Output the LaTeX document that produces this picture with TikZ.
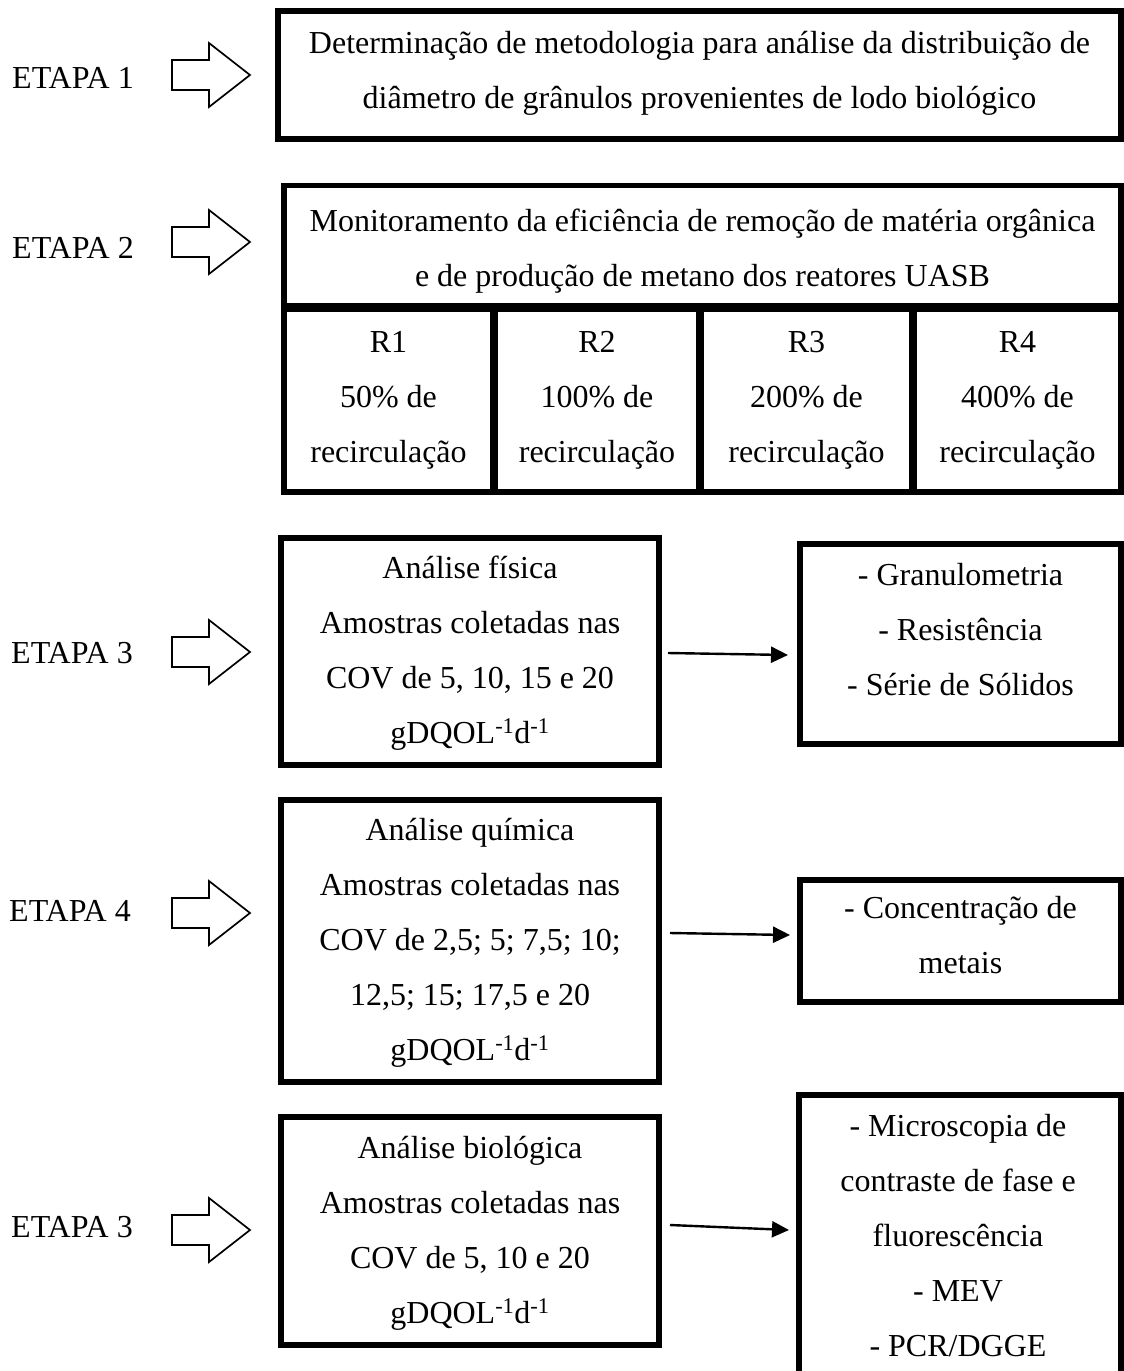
\documentclass[tikz,border=0pt]{standalone}
\usepackage{fontspec}
\setmainfont{Liberation Serif}
\usetikzlibrary{arrows.meta,fit}
\newcommand\blkarrow[1]{\draw[blk] (172,{#1-15}) -- (209,{#1-15}) -- (209,{#1-32}) -- (250,#1) -- (209,{#1+32}) -- (209,{#1+15}) -- (172,{#1+15}) -- cycle;}
\begin{document}
\begin{tikzpicture}[x=1pt,y=-1pt,
  box/.style={draw, line width=5.7pt, rectangle, inner sep=0pt, outer sep=0pt},
  txt/.style={font=\fontsize{32}{55}\selectfont, align=center, inner sep=0pt, anchor=base},
  lab/.style={font=\fontsize{32}{38}\selectfont, inner sep=0pt, anchor=base west},
  blk/.style={draw, line width=1.7pt, line join=miter},
  conn/.style={line width=2.4pt, -{Triangle[length=17pt,width=16pt]}}]
\path[use as bounding box] (0,0) rectangle (1124,1371);
\fill[white] (0,0) rectangle (1124,1371);
\clip (0,0) rectangle (1124,1371);

% stage labels
\node[lab] (e1) at (12,88) {ETAPA 1};
\node[lab] (e2) at (12,258) {ETAPA 2};
\node[lab] (e3) at (11,663) {ETAPA 3};
\node[lab] (e4) at (9,921) {ETAPA 4};
\node[lab] (e5) at (11,1237) {ETAPA 3};

% block arrows
\blkarrow{75}
\blkarrow{242}
\blkarrow{652}
\blkarrow{913}
\blkarrow{1230}

% stage 1 (anchor base = baseline of the last line)
\node[box, fit={(278,11) (1121,139)}] (b1) {};
\node[txt] (t1) at (699.5,108) {Determinação de metodologia para análise da distribuição de\\diâmetro de grânulos provenientes de lodo biológico};

% stage 2
\node[box, fit={(284,185.5) (1121,306.3)}] (hdr) {};
\node[txt] (th) at (702.5,286) {Monitoramento da eficiência de remoção de matéria orgânica\\e de produção de metano dos reatores UASB};
\node[box, fit={(284,308.7) (492.8,492)}] (c1) {};
\node[box, fit={(495.2,308.7) (698.8,492)}] (c2) {};
\node[box, fit={(701.2,308.7) (911.8,492)}] (c3) {};
\node[box, fit={(914.2,308.7) (1121,492)}] (c4) {};
\node[txt] (tc1) at (388.5,462) {R1\\50\% de\\recirculação};
\node[txt] (tc2) at (597,462) {R2\\100\% de\\recirculação};
\node[txt] (tc3) at (806.5,462) {R3\\200\% de\\recirculação};
\node[txt] (tc4) at (1017.5,462) {R4\\400\% de\\recirculação};

% stage 3 (physical)
\node[box, fit={(281,538) (659,765)}] (b3) {};
\node[txt] (t3) at (470,743) {Análise física\\Amostras coletadas nas\\COV de 5, 10, 15 e 20\\gDQOL\textsuperscript{-1}d\textsuperscript{-1}};
\node[box, fit={(800,544) (1121,744)}] (r3) {};
\node[txt] (u3) at (960.5,695) {- Granulometria\\- Resistência\\- Série de Sólidos};
\coordinate (s3) at (668,653);
\coordinate (k3) at (788,655);
\draw[conn] (s3) -- (k3);

% stage 4 (chemical)
\node[box, fit={(281,800) (659,1082)}] (b4) {};
\node[txt] (t4) at (470,1060) {Análise química\\Amostras coletadas nas\\COV de 2,5; 5; 7,5; 10;\\12,5; 15; 17,5 e 20\\gDQOL\textsuperscript{-1}d\textsuperscript{-1}};
\node[box, fit={(800,880) (1121,1002)}] (r4) {};
\node[txt] (u4) at (960.5,973) {- Concentração de\\metais};
\coordinate (s4) at (670,933);
\coordinate (k4) at (790,935);
\draw[conn] (s4) -- (k4);

% stage 3 (biological)
\node[box, fit={(281,1117) (659,1345)}] (b5) {};
\node[txt] (t5) at (470,1323) {Análise biológica\\Amostras coletadas nas\\COV de 5, 10 e 20\\gDQOL\textsuperscript{-1}d\textsuperscript{-1}};
\node[box, fit={(799,1095) (1121,1400)}] (r5) {};
\node[txt] (u5) at (958,1356) {- Microscopia de\\contraste de fase e\\fluorescência\\- MEV\\- PCR/DGGE};
\coordinate (s5) at (670,1225);
\coordinate (k5) at (789,1230);
\draw[conn] (s5) -- (k5);
\end{tikzpicture}
\end{document}
